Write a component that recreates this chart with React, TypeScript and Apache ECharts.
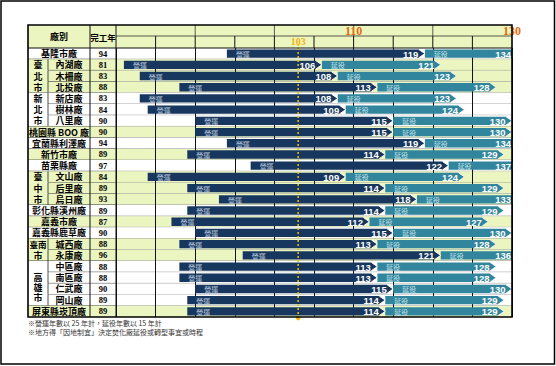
import React, { useEffect, useRef } from 'react';
import * as echarts from 'echarts';

// ---------- data ----------
const plants = ['基隆市廠', '內湖廠', '木柵廠', '北投廠', '新店廠', '樹林廠', '八里廠', '桃園縣 BOO 廠', '宜蘭縣利澤廠', '新竹市廠', '苗栗縣廠', '文山廠', '后里廠', '烏日廠', '彰化縣溪州廠', '嘉義市廠', '嘉義縣鹿草廠', '城西廠', '永康廠', '中區廠', '南區廠', '仁武廠', '岡山廠', '屏東縣崁頂廠'];
const regions = ['基隆市', '臺北市', '臺北市', '臺北市', '新北市', '新北市', '新北市', '桃園縣', '宜蘭縣', '新竹市', '苗栗縣', '臺中市', '臺中市', '臺中市', '彰化縣', '嘉義市', '嘉義縣', '臺南市', '臺南市', '高雄市', '高雄市', '高雄市', '高雄市', '屏東縣'];
const completionYear = [94, 81, 83, 88, 83, 84, 90, 90, 94, 89, 97, 84, 89, 93, 89, 87, 90, 88, 96, 88, 88, 90, 89, 89];
const operationEnd = [119, 106, 108, 113, 108, 109, 115, 115, 119, 114, 122, 109, 114, 118, 114, 112, 115, 113, 121, 113, 113, 115, 114, 114];
const extensionEnd = [134, 121, 123, 128, 123, 124, 130, 130, 134, 129, 137, 124, 129, 133, 129, 127, 130, 128, 136, 128, 128, 130, 129, 129];
const axisMin = 80;
const axisMax = 130;
const axisStep = 5;
const headerYearLabels = [110, 130];
const currentYear = 103;
const headerTitles = ['廠別', '完工年'];
const operationText = '營運';
const extensionText = '延役';
const notes = ['※營運年數以 25 年計，延役年數以 15 年計', '※地方得「因地制宜」決定焚化廠延役或轉型事宜或時程'];

// ---------- layout / style ----------
const W = 556, H = 366;
const TABLE_LEFT = 28, GROUP_RIGHT = 48, NAME_RIGHT = 90, TABLE_TOP = 25, HEADER_MID = 36;
const GRID = { left: 116, right: 44, top: 48, bottom: 49 };
const GREEN = '#ebf5bf';
const NAVY = '#17375e';
const TEAL = '#31859c';
const CJK = '"Noto Sans CJK TC", sans-serif';
const SERIF = '"Liberation Serif", "DejaVu Serif", serif';
const SANS = '"Liberation Sans", Arial, sans-serif';

type Run = { name: string; start: number; count: number };
const runs: Run[] = [];
regions.forEach((r, i) => {
  const last = runs[runs.length - 1];
  if (last && last.name === r) last.count++;
  else runs.push({ name: r, start: i, count: 1 });
});
const runIndexOf = regions.map((_, i) => runs.findIndex((ru) => i >= ru.start && i < ru.start + ru.count));

const txt = (text: string, x: number, y: number, o: any) => ({
  type: 'text',
  style: { text, x, y, verticalAlign: 'middle', lineHeight: 9, ...o },
});

export default function App() {
  const ref = useRef<HTMLDivElement>(null);
  useEffect(() => {
    const chart = echarts.init(ref.current!, null, { renderer: 'svg' });
    const rows = plants.map((_, i) => [completionYear[i], i, operationEnd[i], extensionEnd[i]]);

    const bgSeries = {
      type: 'custom',
      z: 0,
      silent: true,
      data: rows,
      renderItem: (params: any, api: any) => {
        const i = params.dataIndex;
        const cs = params.coordSys;
        const right = cs.x + cs.width;
        const yc = api.coord([axisMin, i])[1];
        const h = api.size([0, 1])[1];
        const top = yc - h / 2;
        const ri = runIndexOf[i];
        const run = runs[ri];
        const multi = run.count > 1;
        const fill = ri % 2 === 1 ? GREEN : '#ffffff';
        const children: any[] = [
          { type: 'rect', shape: { x: TABLE_LEFT, y: top, width: right - TABLE_LEFT, height: h }, style: { fill } },
        ];
        if (i < plants.length - 1) {
          const sameRun = runIndexOf[i + 1] === ri;
          children.push({ type: 'line', shape: { x1: cs.x, y1: top + h, x2: right, y2: top + h }, style: { stroke: '#a3a3a3', lineWidth: 1 } });
          children.push({ type: 'line', shape: { x1: sameRun && multi ? GROUP_RIGHT : TABLE_LEFT, y1: top + h, x2: cs.x, y2: top + h }, style: { stroke: '#222', lineWidth: 0.8 } });
        }
        if (multi) {
          children.push({ type: 'line', shape: { x1: GROUP_RIGHT, y1: top, x2: GROUP_RIGHT, y2: top + h }, style: { stroke: '#222', lineWidth: 0.8 } });
        }
        children.push(txt(plants[i], multi ? (GROUP_RIGHT + NAME_RIGHT) / 2 : (TABLE_LEFT + NAME_RIGHT) / 2, yc, {
          align: 'center', fill: '#000', fontSize: 9, fontWeight: 'bold', fontFamily: CJK,
        }));
        children.push(txt(String(completionYear[i]), (NAME_RIGHT + cs.x) / 2, yc, {
          align: 'center', fill: '#000', fontSize: 8.5, fontWeight: 'bold', fontFamily: SERIF,
        }));
        return { type: 'group', children };
      },
    };

    const barSeries = {
      type: 'custom',
      z: 2,
      silent: true,
      data: rows,
      renderItem: (params: any, api: any) => {
        const i = params.dataIndex;
        const cs = params.coordSys;
        const right = cs.x + cs.width;
        const s = api.value(0), m = api.value(2), e = api.value(3);
        const p0 = api.coord([s, i]);
        const x0 = p0[0], yc = p0[1];
        const x1 = api.coord([m, i])[0];
        const x2 = api.coord([e, i])[0];
        const bh = api.size([0, 1])[1] * 0.74;
        const t = yc - bh / 2, b = yc + bh / 2;
        const hd = 6;
        const clipped = x2 > right;
        const tealPts = clipped
          ? [[x1, t], [right + 1, t], [right + 1, b], [x1, b]]
          : [[x1, t], [x2 - hd, t], [x2, yc], [x2 - hd, b], [x1, b]];
        const darkPts = [[x0, t], [x1 - hd, t], [x1, yc], [x1 - hd, b], [x0, b]];
        const children: any[] = [
          { type: 'polygon', shape: { points: tealPts }, style: { fill: TEAL } },
        ];
        if (!clipped) {
          children.push({ type: 'polyline', shape: { points: [[x2 - hd, t], [x2, yc], [x2 - hd, b]] }, style: { stroke: '#ffffff', lineWidth: 0.8, fill: 'none' } });
        }
        children.push({ type: 'polygon', shape: { points: darkPts }, style: { fill: NAVY } });
        children.push({ type: 'polyline', shape: { points: [[x1 - hd, t], [x1, yc], [x1 - hd, b]] }, style: { stroke: '#ffffff', lineWidth: 1, fill: 'none' } });
        children.push(txt(operationText, x0 + 9, yc + 0.5, { align: 'left', fill: '#b7c6dc', fontSize: 7, fontFamily: CJK, lineHeight: 7 }));
        children.push(txt(String(m), x1 - hd - 0.5, yc + 0.5, { align: 'right', fill: '#ffffff', fontSize: 9.5, fontWeight: 'bold', fontFamily: SANS }));
        children.push(txt(extensionText, x1 + 9, yc + 0.5, { align: 'left', fill: '#c4e2ea', fontSize: 7, fontFamily: CJK, lineHeight: 7 }));
        children.push(txt(String(e), clipped ? right - 1 : x2 - hd - 0.5, yc + 0.5, { align: 'right', fill: '#ffffff', fontSize: 9.5, fontWeight: 'bold', fontFamily: SANS }));
        return { type: 'group', children };
      },
    };

    const overlaySeries = {
      type: 'custom',
      z: 5,
      silent: true,
      data: [[currentYear, 0]],
      renderItem: (params: any, api: any) => {
        const cs = params.coordSys;
        const left = cs.x, right = cs.x + cs.width, top = cs.y, bottom = cs.y + cs.height;
        const h = api.size([0, 1])[1];
        const children: any[] = [
          { type: 'rect', shape: { x: TABLE_LEFT, y: TABLE_TOP, width: right - TABLE_LEFT, height: top - TABLE_TOP }, style: { fill: GREEN } },
          { type: 'line', shape: { x1: left, y1: HEADER_MID, x2: right, y2: HEADER_MID }, style: { stroke: '#333', lineWidth: 0.8 } },
        ];
        for (let v = axisMin + axisStep; v < axisMax; v += axisStep) {
          const x = api.coord([v, 0])[0];
          children.push({ type: 'line', shape: { x1: x, y1: HEADER_MID, x2: x, y2: top }, style: { stroke: '#111', lineWidth: 1 } });
          if (v % (axisStep * 2) === 0) {
            children.push({ type: 'line', shape: { x1: x, y1: TABLE_TOP, x2: x, y2: HEADER_MID }, style: { stroke: '#333', lineWidth: 0.8 } });
          }
        }
        children.push(txt(headerTitles[0], (TABLE_LEFT + NAME_RIGHT) / 2, (TABLE_TOP + top) / 2, { align: 'center', fill: '#000', fontSize: 9, fontWeight: 'bold', fontFamily: CJK }));
        children.push(txt(headerTitles[1], (NAME_RIGHT + left) / 2, (TABLE_TOP + top) / 2, { align: 'center', fill: '#000', fontSize: 8.5, fontWeight: 'bold', fontFamily: CJK }));
        headerYearLabels.forEach((yv) => {
          children.push(txt(String(yv), api.coord([yv, 0])[0], (TABLE_TOP + HEADER_MID) / 2 + 0.5, { align: 'center', fill: '#e46c0a', fontSize: 12, fontWeight: 'bold', fontFamily: SERIF, lineHeight: 11 }));
        });
        // group (city) labels in merged cells
        runs.filter((r) => r.count > 1).forEach((run) => {
          const spanTop = api.coord([axisMin, run.start])[1] - h / 2;
          const gx = (TABLE_LEFT + GROUP_RIGHT) / 2;
          let parts: string[];
          let ys: number[];
          if (run.count === 2) {
            parts = [run.name.slice(0, 2), run.name.slice(2)];
            ys = [spanTop + h / 2, spanTop + h * 1.5];
          } else if (run.count === 3) {
            parts = run.name.split('');
            ys = parts.map((_, k) => spanTop + h * (k + 0.5));
          } else {
            parts = run.name.split('');
            const mid = spanTop + (h * run.count) / 2 + 4;
            ys = parts.map((_, k) => mid + (k - (parts.length - 1) / 2) * 9.8);
          }
          parts.forEach((p, k) => {
            children.push(txt(p, gx, ys[k], { align: 'center', fill: '#000', fontSize: p.length > 1 ? 8.5 : 9, fontWeight: 'bold', fontFamily: CJK }));
          });
        });
        const cx = api.coord([api.value(0), 0])[0];
        children.push({ type: 'line', shape: { x1: cx, y1: 44, x2: cx, y2: bottom + 1 }, style: { stroke: '#f0c000', lineWidth: 1.5, lineDash: [2, 2] } });
        children.push({ type: 'circle', shape: { cx, cy: bottom + 1, r: 2.2 }, style: { fill: '#f0b400' } });
        children.push(txt(String(api.value(0)), cx, 41, { align: 'center', fill: '#f2b20a', fontSize: 10, fontWeight: 'bold', fontFamily: SERIF }));
        // table lines
        children.push({ type: 'line', shape: { x1: TABLE_LEFT, y1: top, x2: right, y2: top }, style: { stroke: '#111', lineWidth: 1 } });
        children.push({ type: 'line', shape: { x1: NAME_RIGHT, y1: TABLE_TOP, x2: NAME_RIGHT, y2: bottom }, style: { stroke: '#111', lineWidth: 1 } });
        children.push({ type: 'line', shape: { x1: left, y1: TABLE_TOP, x2: left, y2: bottom }, style: { stroke: '#111', lineWidth: 1 } });
        children.push({ type: 'rect', shape: { x: TABLE_LEFT, y: TABLE_TOP, width: right - TABLE_LEFT, height: bottom - TABLE_TOP }, style: { fill: 'none', stroke: '#000', lineWidth: 1.6 } });
        return { type: 'group', children };
      },
    };

    const option: any = {
      animation: false,
      backgroundColor: '#ffffff',
      grid: GRID,
      xAxis: {
        type: 'value', min: axisMin, max: axisMax, interval: axisStep, z: 1,
        axisLine: { show: false }, axisTick: { show: false }, axisLabel: { show: false },
        splitLine: { show: true, lineStyle: { color: '#111', width: 1 } },
      },
      yAxis: { type: 'category', data: plants, inverse: true, show: false },
      series: [bgSeries, barSeries, overlaySeries],
      graphic: [
        { type: 'rect', z: 100, silent: true, shape: { x: 1, y: 1, width: 553.5, height: 363 }, style: { fill: 'none', stroke: '#000', lineWidth: 1.5 } },
        ...notes.map((n, k) => ({
          type: 'text', left: TABLE_LEFT, top: 319 + k * 9, silent: true,
          style: { text: n, fill: '#333', fontSize: 7, fontFamily: CJK, lineHeight: 8 },
        })),
      ],
    };
    chart.setOption(option);
    return () => chart.dispose();
  }, []);
  return <div ref={ref} style={{ position: 'fixed', left: 0, top: 0, width: W, height: H, background: '#fff' }} />;
}
